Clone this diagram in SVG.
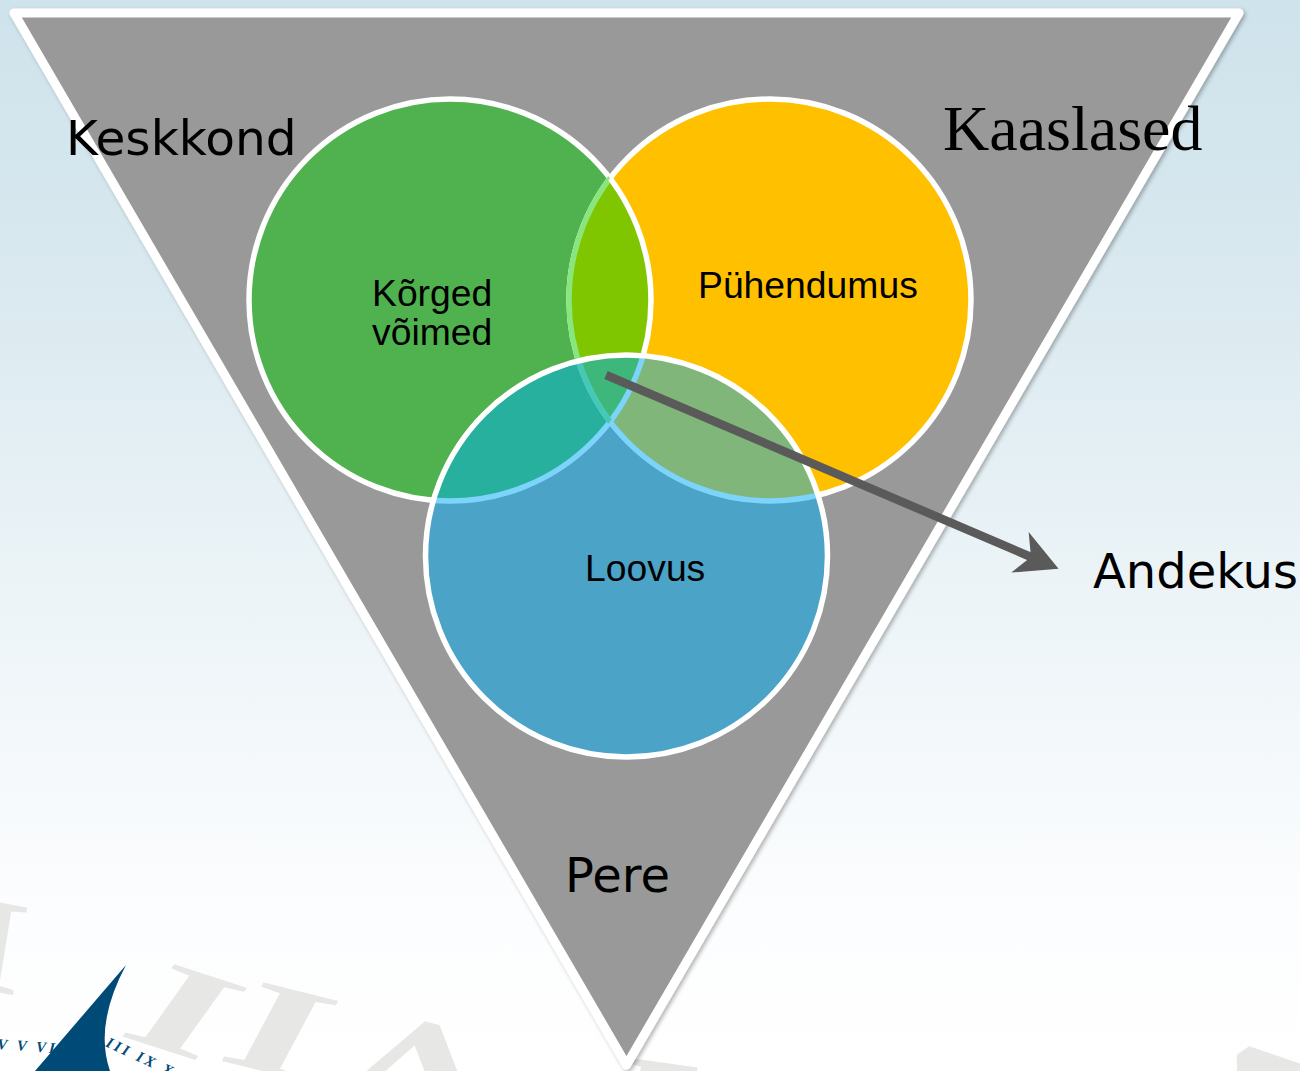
<svg xmlns="http://www.w3.org/2000/svg" width="1300" height="1071" viewBox="0 0 1300 1071">
<style>
.lbl{font-family:"DejaVu Sans",sans-serif;font-size:48px;fill:#000}
.in{font-family:"Liberation Sans",Arial,sans-serif;font-size:37.3px;fill:#000}
.wm{font-family:"Liberation Serif",serif;font-weight:bold;font-size:136px;fill:#e7e7e5}
.nv{font-family:"Liberation Serif",serif;font-style:italic;font-weight:bold;font-size:15px;letter-spacing:3px;fill:#004a78}
.wh{fill:none;stroke:#fff;stroke-width:5.5}
.lb{fill:none;stroke:#7dd4fa;stroke-width:5.5}
</style>
<defs>
<linearGradient id="bg" x1="0" y1="0" x2="0" y2="1"><stop offset="0" stop-color="#cfe3ec"/><stop offset=".2" stop-color="#d6e7ee"/><stop offset=".5" stop-color="#e9f2f6"/><stop offset=".85" stop-color="#fcfdfe"/><stop offset="1" stop-color="#fff"/></linearGradient>
<filter id="sh" x="-5%" y="-5%" width="110%" height="110%"><feDropShadow dx="2" dy="2" stdDeviation="2" flood-color="#000" flood-opacity=".3"/></filter>
<clipPath id="cG"><circle cx="450" cy="300" r="201"/></clipPath>
<clipPath id="cY"><circle cx="770" cy="300" r="201"/></clipPath>
<clipPath id="cB"><circle cx="626.5" cy="556" r="201"/></clipPath>
<marker id="stealth" markerUnits="userSpaceOnUse" markerWidth="60" markerHeight="60" refX="20" refY="30" orient="auto" viewBox="0 0 60 60"><path d="M50 30L8 8 20 30 8 52Z" fill="#5a5a5a"/></marker>
</defs>
<rect width="1300" height="1071" fill="url(#bg)"/>
<g id="watermark">
<text class="wm" transform="matrix(1.3 .25 -.16 .98 -50 983)">I</text>
<text class="wm" transform="matrix(1.66 .54 -.58 .81 115 1034)">I</text>
<text class="wm" transform="matrix(1.7 .42 -.47 .88 214 1059)">I</text>
<text class="wm" transform="translate(513 1047) rotate(195) scale(1.7 1)">V</text>
<text class="wm" transform="matrix(1.73 .24 -.1 1 605 1145)">I</text>
<text class="wm" transform="matrix(1.73 .24 -.1 1 770 1160)">I</text>
<text class="wm" transform="translate(1313 1004) rotate(145) scale(1.7 1)">V</text>
<path d="M126 965Q94 1025 110 1071H35Z" fill="#004a78"/>
<text class="nv" transform="translate(-3 1049) rotate(4)">V V VI</text>
<text class="nv" transform="translate(105 1046) rotate(25)">III IX X X</text>
</g>
<g id="triangle"><path d="M14 13H1239L626.5 1065Z" fill="#999" stroke="#fff" stroke-width="9" stroke-linejoin="round" filter="url(#sh)"/></g>
<g id="keskkond"><text class="lbl" x="66" y="155" style="font-size:48.6px">Keskkond</text></g>
<g id="kaaslased"><text x="943" y="150" font-family="Liberation Serif,serif" font-size="64" fill="#000">Kaaslased</text></g>
<g id="pere"><text class="lbl" x="565" y="892">Pere</text></g>
<g id="andekus"><text class="lbl" x="1093" y="588">Andekus</text></g>
<g id="korged-voimed">
<circle cx="450" cy="300" r="201" fill="#4fb24f"/><circle class="wh" cx="450" cy="300" r="201"/>
</g>
<g id="puhendumus">
<circle cx="770" cy="300" r="201" fill="#ffc000"/><circle class="wh" cx="770" cy="300" r="201"/>
<g clip-path="url(#cG)"><g clip-path="url(#cY)"><rect x="560" y="150" width="100" height="300" fill="#80c600"/></g><circle cx="770" cy="300" r="201" fill="none" stroke="#88e67c" stroke-width="5.5"/></g>
<g clip-path="url(#cY)"><circle class="wh" cx="450" cy="300" r="201"/></g>
</g>
<g id="loovus">
<circle cx="626.5" cy="556" r="201" fill="#4ba3c7"/>
<g clip-path="url(#cB)">
<g clip-path="url(#cG)"><rect x="420" y="340" width="240" height="170" fill="#27b09e"/></g>
<g clip-path="url(#cY)"><rect x="590" y="340" width="240" height="170" fill="#80b67a"/>
<g clip-path="url(#cG)"><rect x="560" y="340" width="100" height="120" fill="#3eb87a"/></g></g>
<circle class="lb" cx="450" cy="300" r="201"/>
<circle class="lb" cx="770" cy="300" r="201"/>
<g clip-path="url(#cG)"><circle cx="770" cy="300" r="201" fill="none" stroke="#45c9b5" stroke-width="5.5"/></g>
</g>
<circle class="wh" cx="626.5" cy="556" r="201"/>
</g>
<g id="connectors"><path d="M606 375L1031 557" fill="none" stroke="#5a5a5a" stroke-width="8.5" marker-end="url(#stealth)"/></g>
<g id="labels">
<text class="in" x="372" y="306">Kõrged</text>
<text class="in" x="372" y="345">võimed</text>
<text class="in" x="698" y="298">Pühendumus</text>
<text class="in" x="585" y="581">Loovus</text>
</g>
</svg>
